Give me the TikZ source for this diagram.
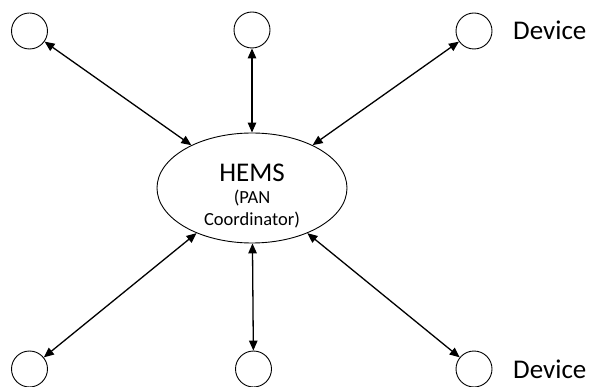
\documentclass[tikz,border=0pt]{standalone}
\usepackage{fontspec}
\setmainfont{Carlito}
\usetikzlibrary{arrows.meta,shapes.geometric}
\begin{document}
\begin{tikzpicture}[x=1pt,y=-1pt,
  device/.style={circle,draw,line width=0.9pt,minimum size=36pt,inner sep=0pt},
  coord/.style={ellipse,draw,line width=0.9pt,minimum width=190pt,minimum height=110pt,inner sep=0pt},
  link/.style={line width=1.3pt,{Triangle[length=10pt,width=8.5pt]}-{Triangle[length=10pt,width=8.5pt]}},
  devlabel/.style={anchor=base west,inner sep=0pt,font=\fontsize{27}{32}\selectfont}
]
\useasboundingbox (0,0) rectangle (591,387);
% coordinator
\node[coord] (hems) at (252,188) {};
\node[align=center,inner sep=0pt,font=\fontsize{18.5}{22}\selectfont] (hemstext) at (252,196)
  {{\fontsize{27}{30}\selectfont HEMS}\\(PAN\\Coordinator)};
% devices
\node[device] (d1) at (29.5,31) {};
\node[device] (d2) at (252,30) {};
\node[device] (d3) at (474,31) {};
\node[device] (d4) at (29.5,369) {};
\node[device] (d5) at (253.5,369) {};
\node[device] (d6) at (474,369) {};
\node[devlabel] (l3) at (513,40) {Device};
\node[devlabel] (l6) at (513,378) {Device};
% links
\foreach \d in {d1,d2,d3,d4,d5,d6}
  \draw[link] (\d) -- (hems);
\end{tikzpicture}
\end{document}
